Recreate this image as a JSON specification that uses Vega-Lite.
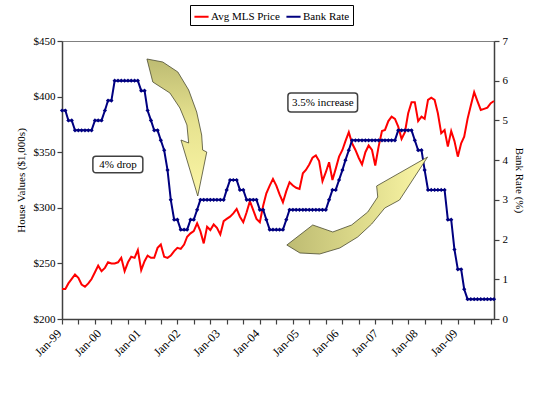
{
  "$schema": "https://vega.github.io/schema/vega-lite/v6.json",
  "width": 432,
  "height": 278,
  "autosize": {"type": "none"},
  "padding": {"left": 62, "top": 41, "right": 44, "bottom": 78},
  "background": "white",
  "config": {
    "view": {"stroke": "#808080", "strokeWidth": 1},
    "font": "Liberation Serif",
    "axis": {"labelFont": "Liberation Serif", "titleFont": "Liberation Serif", "labelFontSize": 11, "titleFontSize": 11, "titleFontWeight": "normal", "labelColor": "#000000", "titleColor": "#000000", "domainColor": "#404040", "tickColor": "#404040", "grid": false, "domainWidth": 1.5, "tickWidth": 1.2}
  },
  "datasets": {
    "main": [
      {"date": "1999-01-01", "price": 227, "rate": 5.25},
      {"date": "1999-02-01", "price": 227, "rate": 5.25},
      {"date": "1999-03-01", "price": 232, "rate": 5.0},
      {"date": "1999-04-01", "price": 236, "rate": 5.0},
      {"date": "1999-05-01", "price": 240, "rate": 4.75},
      {"date": "1999-06-01", "price": 237, "rate": 4.75},
      {"date": "1999-07-01", "price": 231, "rate": 4.75},
      {"date": "1999-08-01", "price": 229, "rate": 4.75},
      {"date": "1999-09-01", "price": 232, "rate": 4.75},
      {"date": "1999-10-01", "price": 236, "rate": 4.75},
      {"date": "1999-11-01", "price": 242, "rate": 5.0},
      {"date": "1999-12-01", "price": 248, "rate": 5.0},
      {"date": "2000-01-01", "price": 243, "rate": 5.0},
      {"date": "2000-02-01", "price": 246, "rate": 5.25},
      {"date": "2000-03-01", "price": 251, "rate": 5.5},
      {"date": "2000-04-01", "price": 250, "rate": 5.5},
      {"date": "2000-05-01", "price": 250, "rate": 6.0},
      {"date": "2000-06-01", "price": 251, "rate": 6.0},
      {"date": "2000-07-01", "price": 255, "rate": 6.0},
      {"date": "2000-08-01", "price": 243, "rate": 6.0},
      {"date": "2000-09-01", "price": 251, "rate": 6.0},
      {"date": "2000-10-01", "price": 256, "rate": 6.0},
      {"date": "2000-11-01", "price": 255, "rate": 6.0},
      {"date": "2000-12-01", "price": 262, "rate": 6.0},
      {"date": "2001-01-01", "price": 244, "rate": 5.75},
      {"date": "2001-02-01", "price": 252, "rate": 5.75},
      {"date": "2001-03-01", "price": 257, "rate": 5.25},
      {"date": "2001-04-01", "price": 255, "rate": 5.0},
      {"date": "2001-05-01", "price": 255, "rate": 4.75},
      {"date": "2001-06-01", "price": 264, "rate": 4.75},
      {"date": "2001-07-01", "price": 267, "rate": 4.5},
      {"date": "2001-08-01", "price": 256, "rate": 4.25},
      {"date": "2001-09-01", "price": 255, "rate": 3.75},
      {"date": "2001-10-01", "price": 257, "rate": 3.0},
      {"date": "2001-11-01", "price": 261, "rate": 2.5},
      {"date": "2001-12-01", "price": 264, "rate": 2.5},
      {"date": "2002-01-01", "price": 263, "rate": 2.25},
      {"date": "2002-02-01", "price": 267, "rate": 2.25},
      {"date": "2002-03-01", "price": 274, "rate": 2.25},
      {"date": "2002-04-01", "price": 277, "rate": 2.5},
      {"date": "2002-05-01", "price": 279, "rate": 2.5},
      {"date": "2002-06-01", "price": 286, "rate": 2.75},
      {"date": "2002-07-01", "price": 279, "rate": 3.0},
      {"date": "2002-08-01", "price": 268, "rate": 3.0},
      {"date": "2002-09-01", "price": 283, "rate": 3.0},
      {"date": "2002-10-01", "price": 280, "rate": 3.0},
      {"date": "2002-11-01", "price": 285, "rate": 3.0},
      {"date": "2002-12-01", "price": 282, "rate": 3.0},
      {"date": "2003-01-01", "price": 276, "rate": 3.0},
      {"date": "2003-02-01", "price": 288, "rate": 3.0},
      {"date": "2003-03-01", "price": 290, "rate": 3.25},
      {"date": "2003-04-01", "price": 292, "rate": 3.5},
      {"date": "2003-05-01", "price": 295, "rate": 3.5},
      {"date": "2003-06-01", "price": 299, "rate": 3.5},
      {"date": "2003-07-01", "price": 292, "rate": 3.25},
      {"date": "2003-08-01", "price": 287, "rate": 3.25},
      {"date": "2003-09-01", "price": 296, "rate": 3.0},
      {"date": "2003-10-01", "price": 306, "rate": 3.0},
      {"date": "2003-11-01", "price": 298, "rate": 3.0},
      {"date": "2003-12-01", "price": 290, "rate": 3.0},
      {"date": "2004-01-01", "price": 287, "rate": 2.75},
      {"date": "2004-02-01", "price": 302, "rate": 2.75},
      {"date": "2004-03-01", "price": 313, "rate": 2.5},
      {"date": "2004-04-01", "price": 320, "rate": 2.25},
      {"date": "2004-05-01", "price": 326, "rate": 2.25},
      {"date": "2004-06-01", "price": 320, "rate": 2.25},
      {"date": "2004-07-01", "price": 312, "rate": 2.25},
      {"date": "2004-08-01", "price": 305, "rate": 2.25},
      {"date": "2004-09-01", "price": 315, "rate": 2.5},
      {"date": "2004-10-01", "price": 323, "rate": 2.75},
      {"date": "2004-11-01", "price": 320, "rate": 2.75},
      {"date": "2004-12-01", "price": 318, "rate": 2.75},
      {"date": "2005-01-01", "price": 317, "rate": 2.75},
      {"date": "2005-02-01", "price": 331, "rate": 2.75},
      {"date": "2005-03-01", "price": 334, "rate": 2.75},
      {"date": "2005-04-01", "price": 339, "rate": 2.75},
      {"date": "2005-05-01", "price": 345, "rate": 2.75},
      {"date": "2005-06-01", "price": 347, "rate": 2.75},
      {"date": "2005-07-01", "price": 342, "rate": 2.75},
      {"date": "2005-08-01", "price": 324, "rate": 2.75},
      {"date": "2005-09-01", "price": 332, "rate": 2.75},
      {"date": "2005-10-01", "price": 341, "rate": 3.0},
      {"date": "2005-11-01", "price": 325, "rate": 3.25},
      {"date": "2005-12-01", "price": 335, "rate": 3.25},
      {"date": "2006-01-01", "price": 346, "rate": 3.5},
      {"date": "2006-02-01", "price": 352, "rate": 3.75},
      {"date": "2006-03-01", "price": 360, "rate": 4.0},
      {"date": "2006-04-01", "price": 368, "rate": 4.25},
      {"date": "2006-05-01", "price": 358, "rate": 4.5},
      {"date": "2006-06-01", "price": 352, "rate": 4.5},
      {"date": "2006-07-01", "price": 345, "rate": 4.5},
      {"date": "2006-08-01", "price": 339, "rate": 4.5},
      {"date": "2006-09-01", "price": 350, "rate": 4.5},
      {"date": "2006-10-01", "price": 356, "rate": 4.5},
      {"date": "2006-11-01", "price": 352, "rate": 4.5},
      {"date": "2006-12-01", "price": 338, "rate": 4.5},
      {"date": "2007-01-01", "price": 355, "rate": 4.5},
      {"date": "2007-02-01", "price": 369, "rate": 4.5},
      {"date": "2007-03-01", "price": 370, "rate": 4.5},
      {"date": "2007-04-01", "price": 378, "rate": 4.5},
      {"date": "2007-05-01", "price": 382, "rate": 4.5},
      {"date": "2007-06-01", "price": 380, "rate": 4.5},
      {"date": "2007-07-01", "price": 373, "rate": 4.75},
      {"date": "2007-08-01", "price": 362, "rate": 4.75},
      {"date": "2007-09-01", "price": 368, "rate": 4.75},
      {"date": "2007-10-01", "price": 385, "rate": 4.75},
      {"date": "2007-11-01", "price": 395, "rate": 4.75},
      {"date": "2007-12-01", "price": 395, "rate": 4.5},
      {"date": "2008-01-01", "price": 378, "rate": 4.25},
      {"date": "2008-02-01", "price": 382, "rate": 4.25},
      {"date": "2008-03-01", "price": 380, "rate": 3.75},
      {"date": "2008-04-01", "price": 397, "rate": 3.25},
      {"date": "2008-05-01", "price": 399, "rate": 3.25},
      {"date": "2008-06-01", "price": 397, "rate": 3.25},
      {"date": "2008-07-01", "price": 385, "rate": 3.25},
      {"date": "2008-08-01", "price": 367, "rate": 3.25},
      {"date": "2008-09-01", "price": 370, "rate": 3.25},
      {"date": "2008-10-01", "price": 355, "rate": 2.5},
      {"date": "2008-11-01", "price": 369, "rate": 2.5},
      {"date": "2008-12-01", "price": 360, "rate": 1.75},
      {"date": "2009-01-01", "price": 346, "rate": 1.25},
      {"date": "2009-02-01", "price": 358, "rate": 1.25},
      {"date": "2009-03-01", "price": 364, "rate": 0.75},
      {"date": "2009-04-01", "price": 380, "rate": 0.5},
      {"date": "2009-05-01", "price": 392, "rate": 0.5},
      {"date": "2009-06-01", "price": 404, "rate": 0.5},
      {"date": "2009-07-01", "price": 396, "rate": 0.5},
      {"date": "2009-08-01", "price": 388, "rate": 0.5},
      {"date": "2009-09-01", "price": 389, "rate": 0.5},
      {"date": "2009-10-01", "price": 390, "rate": 0.5},
      {"date": "2009-11-01", "price": 394, "rate": 0.5},
      {"date": "2009-12-01", "price": 396, "rate": 0.5}
    ],
    "notes": [
      {"label": "4% drop", "x1": "1999-10-13", "x2": "2001-01-16", "y1": 4.10, "y2": 3.68, "cx": "2000-06-01", "cy": 3.89},
      {"label": "3.5% increase", "x1": "2004-09-16", "x2": "2006-06-21", "y1": 5.69, "y2": 5.21, "cx": "2005-08-04", "cy": 5.45}
    ],
    "arrows": [
      {"arrow": "drop", "i": 1, "date": "2001-02-23", "rate": 6.547},
      {"arrow": "drop", "i": 2, "date": "2001-07-19", "rate": 6.471},
      {"arrow": "drop", "i": 3, "date": "2001-12-05", "rate": 6.220},
      {"arrow": "drop", "i": 4, "date": "2002-03-15", "rate": 5.766},
      {"arrow": "drop", "i": 5, "date": "2002-05-28", "rate": 5.212},
      {"arrow": "drop", "i": 6, "date": "2002-07-13", "rate": 4.633},
      {"arrow": "drop", "i": 7, "date": "2002-07-22", "rate": 4.255},
      {"arrow": "drop", "i": 8, "date": "2002-08-29", "rate": 4.205},
      {"arrow": "drop", "i": 9, "date": "2002-06-07", "rate": 3.097},
      {"arrow": "drop", "i": 10, "date": "2002-01-03", "rate": 4.507},
      {"arrow": "drop", "i": 11, "date": "2002-03-15", "rate": 4.432},
      {"arrow": "drop", "i": 12, "date": "2002-02-27", "rate": 4.885},
      {"arrow": "drop", "i": 13, "date": "2001-12-24", "rate": 5.313},
      {"arrow": "drop", "i": 14, "date": "2001-09-23", "rate": 5.691},
      {"arrow": "drop", "i": 15, "date": "2001-04-18", "rate": 5.968},
      {"arrow": "rise", "i": 1, "date": "2004-09-06", "rate": 1.863},
      {"arrow": "rise", "i": 2, "date": "2005-01-05", "rate": 1.662},
      {"arrow": "rise", "i": 3, "date": "2005-07-06", "rate": 1.637},
      {"arrow": "rise", "i": 4, "date": "2006-01-08", "rate": 1.788},
      {"arrow": "rise", "i": 5, "date": "2006-06-22", "rate": 2.065},
      {"arrow": "rise", "i": 6, "date": "2006-10-29", "rate": 2.392},
      {"arrow": "rise", "i": 7, "date": "2007-02-27", "rate": 2.795},
      {"arrow": "rise", "i": 8, "date": "2007-07-13", "rate": 2.996},
      {"arrow": "rise", "i": 9, "date": "2008-03-28", "rate": 4.079},
      {"arrow": "rise", "i": 10, "date": "2006-12-14", "rate": 3.349},
      {"arrow": "rise", "i": 11, "date": "2006-12-24", "rate": 3.072},
      {"arrow": "rise", "i": 12, "date": "2006-09-23", "rate": 2.694},
      {"arrow": "rise", "i": 13, "date": "2006-04-27", "rate": 2.367},
      {"arrow": "rise", "i": 14, "date": "2005-11-04", "rate": 2.191},
      {"arrow": "rise", "i": 15, "date": "2005-05-03", "rate": 2.367}
    ]
  },
  "resolve": {"scale": {"y": "independent"}, "axis": {"x": "independent"}},
  "layer": [
    {
      "data": {"name": "main"},
      "mark": {"type": "line", "stroke": "#ff0000", "strokeWidth": 2},
      "encoding": {
        "x": {
          "field": "date", "type": "temporal",
          "scale": {"type": "utc", "domain": [{"year": 1999, "month": 1, "date": 1, "utc": true}, {"year": 2009, "month": 12, "date": 1, "utc": true}]},
          "axis": {
            "orient": "bottom", "title": null, "labels": false, "tickSize": 5,
            "values": [
              {"year": 1999, "month": 1, "date": 1, "utc": true}, {"year": 1999, "month": 6, "date": 1, "utc": true}, {"year": 1999, "month": 11, "date": 1, "utc": true},
              {"year": 2000, "month": 4, "date": 1, "utc": true}, {"year": 2000, "month": 9, "date": 1, "utc": true}, {"year": 2001, "month": 2, "date": 1, "utc": true},
              {"year": 2001, "month": 7, "date": 1, "utc": true}, {"year": 2001, "month": 12, "date": 1, "utc": true}, {"year": 2002, "month": 5, "date": 1, "utc": true},
              {"year": 2002, "month": 10, "date": 1, "utc": true}, {"year": 2003, "month": 3, "date": 1, "utc": true}, {"year": 2003, "month": 8, "date": 1, "utc": true},
              {"year": 2004, "month": 1, "date": 1, "utc": true}, {"year": 2004, "month": 6, "date": 1, "utc": true}, {"year": 2004, "month": 11, "date": 1, "utc": true},
              {"year": 2005, "month": 4, "date": 1, "utc": true}, {"year": 2005, "month": 9, "date": 1, "utc": true}, {"year": 2006, "month": 2, "date": 1, "utc": true},
              {"year": 2006, "month": 7, "date": 1, "utc": true}, {"year": 2006, "month": 12, "date": 1, "utc": true}, {"year": 2007, "month": 5, "date": 1, "utc": true},
              {"year": 2007, "month": 10, "date": 1, "utc": true}, {"year": 2008, "month": 3, "date": 1, "utc": true}, {"year": 2008, "month": 8, "date": 1, "utc": true},
              {"year": 2009, "month": 1, "date": 1, "utc": true}, {"year": 2009, "month": 6, "date": 1, "utc": true}, {"year": 2009, "month": 11, "date": 1, "utc": true}
            ]
          }
        },
        "y": {
          "field": "price", "type": "quantitative",
          "scale": {"domain": [200, 450], "nice": false, "zero": false},
          "axis": {"orient": "left", "title": "House Values ($1,000s)", "values": [200, 250, 300, 350, 400, 450], "labelExpr": "'$' + datum.value", "tickSize": 5, "labelPadding": 2, "titlePadding": 7}
        },
        "color": {
          "datum": "Avg MLS Price",
          "scale": {"domain": ["Avg MLS Price", "Bank Rate"], "range": ["#ff0000", "#000080"]},
          "legend": {"orient": "none", "legendX": 128, "legendY": -36, "direction": "horizontal", "title": null, "symbolType": "stroke", "symbolSize": 200, "symbolStrokeWidth": 2, "strokeColor": "#000000", "fillColor": "#ffffff", "padding": 3, "labelFont": "Liberation Serif", "labelFontSize": 11, "labelColor": "#000000", "columnPadding": 2, "labelOffset": 1}
        }
      }
    },
    {
      "encoding": {
        "y": {
          "type": "quantitative",
          "scale": {"domain": [0, 7], "nice": false},
          "axis": {"orient": "right", "title": "Bank Rate (%)", "values": [0, 1, 2, 3, 4, 5, 6, 7], "tickSize": 5, "labelPadding": 3, "titlePadding": 6}
        }
      },
      "layer": [
        {
          "data": {"name": "main"},
          "mark": {"type": "line", "strokeWidth": 2, "point": {"shape": "diamond", "size": 18, "filled": true}},
          "encoding": {
            "x": {
              "field": "date", "type": "temporal",
              "axis": {
                "orient": "bottom", "title": null, "ticks": false, "domain": false,
                "labelAngle": -45, "labelAlign": "right", "labelBaseline": "middle", "labelPadding": 12, "labelOffset": -3, "labelFontSize": 12,
                "labelExpr": "utcFormat(datum.value, '%b-%y')",
                "values": [
                  {"year": 1999, "month": 1, "date": 1, "utc": true}, {"year": 2000, "month": 1, "date": 1, "utc": true}, {"year": 2001, "month": 1, "date": 1, "utc": true},
                  {"year": 2002, "month": 1, "date": 1, "utc": true}, {"year": 2003, "month": 1, "date": 1, "utc": true}, {"year": 2004, "month": 1, "date": 1, "utc": true},
                  {"year": 2005, "month": 1, "date": 1, "utc": true}, {"year": 2006, "month": 1, "date": 1, "utc": true}, {"year": 2007, "month": 1, "date": 1, "utc": true},
                  {"year": 2008, "month": 1, "date": 1, "utc": true}, {"year": 2009, "month": 1, "date": 1, "utc": true}
                ]
              }
            },
            "y": {"field": "rate"},
            "color": {"datum": "Bank Rate"}
          }
        },
        {
          "data": {"name": "arrows"},
          "transform": [{"filter": "datum.arrow == 'drop'"}],
          "mark": {"type": "line", "interpolate": "linear-closed", "stroke": "#4a4a30", "strokeWidth": 0.8,
            "fill": {"gradient": "linear", "x1": 0, "y1": 0, "x2": 0, "y2": 1, "stops": [{"offset": 0, "color": "#bdbb72"}, {"offset": 0.45, "color": "#e6e28f"}, {"offset": 1, "color": "#fbf6a6"}]}},
          "encoding": {
            "x": {"field": "date", "type": "temporal"},
            "y": {"field": "rate"},
            "order": {"field": "i", "type": "quantitative"}
          }
        },
        {
          "data": {"name": "arrows"},
          "transform": [{"filter": "datum.arrow == 'rise'"}],
          "mark": {"type": "line", "interpolate": "linear-closed", "stroke": "#4a4a30", "strokeWidth": 0.8,
            "fill": {"gradient": "linear", "x1": 0, "y1": 0, "x2": 1, "y2": 0, "stops": [{"offset": 0, "color": "#bdbb72"}, {"offset": 0.5, "color": "#dcd98a"}, {"offset": 1, "color": "#fbf6a6"}]}},
          "encoding": {
            "x": {"field": "date", "type": "temporal"},
            "y": {"field": "rate"},
            "order": {"field": "i", "type": "quantitative"}
          }
        },
        {
          "data": {"name": "notes"},
          "mark": {"type": "rect", "fill": "#ffffff", "stroke": "#404040", "strokeWidth": 1.5, "cornerRadius": 3},
          "encoding": {
            "x": {"field": "x1", "type": "temporal"},
            "x2": {"field": "x2"},
            "y": {"field": "y1"},
            "y2": {"field": "y2"}
          }
        },
        {
          "data": {"name": "notes"},
          "mark": {"type": "text", "font": "Liberation Serif", "fontSize": 11, "color": "#000000", "align": "center", "baseline": "middle"},
          "encoding": {
            "x": {"field": "cx", "type": "temporal"},
            "y": {"field": "cy"},
            "text": {"field": "label"}
          }
        }
      ]
    }
  ]
}
